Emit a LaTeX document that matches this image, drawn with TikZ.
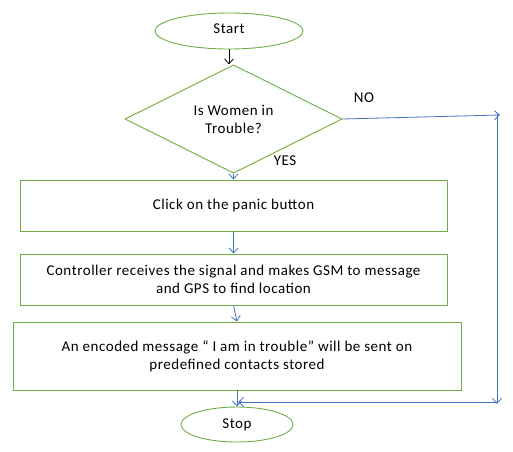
\documentclass[tikz,border=0pt]{standalone}
\usepackage{fontspec}
\setmainfont{Carlito}[LetterSpace=3.5]
\usetikzlibrary{shapes.geometric,arrows.meta}
\definecolor{ogreen}{RGB}{112,173,71}
\definecolor{oblue}{RGB}{68,114,196}
\tikzset{
  term/.style={draw=ogreen,line width=0.9pt,ellipse,inner sep=0pt},
  procbox/.style={draw=ogreen,line width=0.9pt,rectangle,inner sep=0pt,align=center},
  decide/.style={draw=ogreen,line width=0.9pt,diamond,inner sep=0pt,align=center},
  flow/.style={draw=oblue,line width=0.8pt,-{Straight Barb[length=5pt,width=9pt]}},
  flowk/.style={draw=black,line width=0.8pt,-{Straight Barb[length=5pt,width=9pt]}},
  lbl/.style={inner sep=0pt}
}
\begin{document}
\begin{tikzpicture}[x=1pt,y=-1pt,font=\fontsize{15}{18}\selectfont]
\useasboundingbox (0,0) rectangle (513,451);
\node[term,minimum width=148pt,minimum height=36pt] (start) at (229,31) {\raisebox{4pt}{Start}};
\node[decide,minimum width=217pt,minimum height=92pt] (dia) at (233.5,119) {Is Women in\\Trouble?};
\node[procbox,minimum width=427pt,minimum height=51pt] (box1) at (233.5,205.5) {Click on the panic button};
\node[procbox,minimum width=427pt,minimum height=51pt] (box2) at (233.5,279.5) {Controller receives the signal and makes GSM to message\\and GPS to find location};
\node[procbox,minimum width=448pt,minimum height=68pt] (box3) at (237,356) {An encoded message `` I am in trouble'' will be sent on\\predefined contacts stored};
\node[term,minimum width=112pt,minimum height=35pt] (stop) at (237,424.5) {\raisebox{-3pt}{Stop}};
\node[lbl] (no) at (364,98) {NO};
\node[lbl] (yes) at (285,161) {YES};
\coordinate (noA) at (500,115);
\coordinate (noB) at (497,113);
\coordinate (noC) at (497,404);
\coordinate (noD) at (497,402);
\coordinate (noE) at (238,402);
\draw[flowk] (start.south) -- (start.south |- dia.north);
\draw[flow] (dia.south) -- (box1.north);
\draw[flow] (box1.south) -- (box2.north);
\draw[flow] (box2.south) -- (box3.north);
\draw[flow] (box3.south) -- (stop.north);
\draw[flow] (dia.east) -- (noA);
\draw[flow] (noB) -- (noC);
\draw[flow] (noD) -- (noE);
\end{tikzpicture}
\end{document}
